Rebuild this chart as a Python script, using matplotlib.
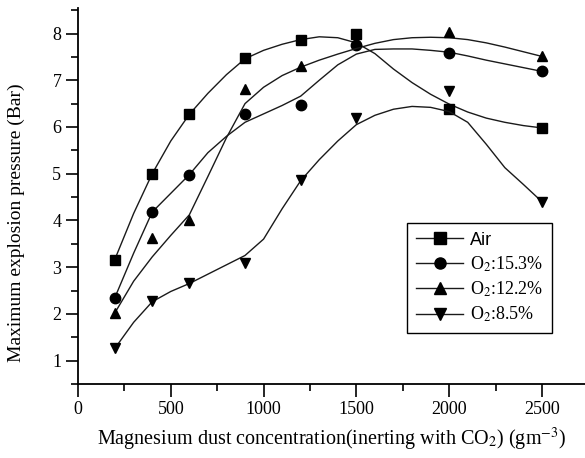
import matplotlib
matplotlib.use("Agg")
import matplotlib.pyplot as plt
from matplotlib.ticker import MultipleLocator

plt.rcParams['font.family'] = ['Liberation Serif', 'DejaVu Serif']
plt.rcParams['mathtext.fontset'] = 'stix'

# measured points
conc = [200, 400, 600, 900, 1200, 1500, 2000, 2500]
p_air = [3.15, 5.0, 6.27, 7.48, 7.87, 7.98, 6.38, 5.98]
p_153 = [2.35, 4.18, 4.98, 6.28, 6.46, 7.75, 7.59, 7.19]
p_122 = [2.01, 3.62, 4.02, 6.82, 7.30, 7.85, 8.04, 7.51]
p_85 = [1.27, 2.27, 2.66, 3.09, 4.87, 6.20, 6.78, 4.40]

# fitted curves, every 100 g/m3
fit_conc = [200, 300, 400, 500, 600, 700, 800, 900, 1000, 1100, 1200, 1300,
            1400, 1500, 1600, 1700, 1800, 1900, 2000, 2100, 2200, 2300, 2400, 2500]
fit_air = [3.18, 4.15, 5.0, 5.7, 6.27, 6.72, 7.12, 7.46, 7.64, 7.77, 7.87, 7.93,
           7.91, 7.80, 7.57, 7.24, 6.95, 6.70, 6.49, 6.32, 6.19, 6.10, 6.03, 5.98]
fit_153 = [2.36, 3.30, 4.18, 4.58, 4.98, 5.45, 5.80, 6.10, 6.28, 6.46, 6.66, 7.00,
           7.33, 7.56, 7.66, 7.67, 7.67, 7.64, 7.60, 7.52, 7.43, 7.35, 7.27, 7.19]
fit_122 = [2.03, 2.70, 3.22, 3.68, 4.12, 4.94, 5.77, 6.50, 6.85, 7.10, 7.28, 7.43,
           7.56, 7.68, 7.79, 7.87, 7.91, 7.92, 7.91, 7.87, 7.80, 7.71, 7.61, 7.51]
fit_85 = [1.27, 1.82, 2.26, 2.48, 2.65, 2.85, 3.05, 3.25, 3.60, 4.25, 4.85, 5.30,
          5.70, 6.05, 6.25, 6.38, 6.44, 6.42, 6.33, 6.10, 5.63, 5.13, 4.77, 4.40]

labels = ['Air', 'O$_2$:15.3%', 'O$_2$:12.2%', 'O$_2$:8.5%']
markers = ['s', 'o', '^', 'v']

fig = plt.figure(figsize=(5.85, 4.58), dpi=100)
ax = fig.add_axes([0.1333, 0.1616, 0.8667, 0.8203])

lc = '#1a1a1a'
series = [(p_air, fit_air), (p_153, fit_153), (p_122, fit_122), (p_85, fit_85)]
for (pts, fit), lab, mk in zip(series, labels, markers):
    ax.plot(fit_conc, fit, color=lc, lw=1.0)
    ax.plot(conc, pts, ls='none', marker=mk, ms=7.5, color='black')
    # proxy for legend: line + marker
    ax.plot([], [], color=lc, lw=1.0, marker=mk, ms=8, mfc='black', mec='black', label=lab)

ax.set_xlim(0, 2732)
ax.set_ylim(0.5, 8.54)
ax.xaxis.set_major_locator(MultipleLocator(500))
ax.xaxis.set_minor_locator(MultipleLocator(250))
ax.yaxis.set_major_locator(MultipleLocator(1))
ax.yaxis.set_minor_locator(MultipleLocator(0.5))
ax.set_yticks([1, 2, 3, 4, 5, 6, 7, 8])
ax.tick_params(which='major', direction='out', length=9, width=1.2, labelsize=13, pad=3)
ax.tick_params(which='minor', direction='out', length=5, width=1.2)
for s in ['top', 'right']:
    ax.spines[s].set_visible(False)
for s in ['left', 'bottom']:
    ax.spines[s].set_linewidth(1.3)

ax.set_xlabel('Magnesium dust concentration(inerting with CO$_2$) (gm$^{-3}$)', fontsize=14.5, labelpad=6)
ax.set_ylabel('Maximum explosion pressure (Bar)', fontsize=14, labelpad=8)
ax.yaxis.set_label_coords(-0.105, 0.43)

leg = ax.legend(loc='upper left', bbox_to_anchor=(0.6495, 0.4293), borderaxespad=0,
                fancybox=False, edgecolor='black', framealpha=1, fontsize=13,
                handlelength=2.6, handletextpad=0.35, labelspacing=0.32, borderpad=0.5)
leg.get_frame().set_linewidth(1.0)
leg.get_texts()[0].set_fontfamily('Liberation Sans')

fig.savefig('out.png', dpi=100)
